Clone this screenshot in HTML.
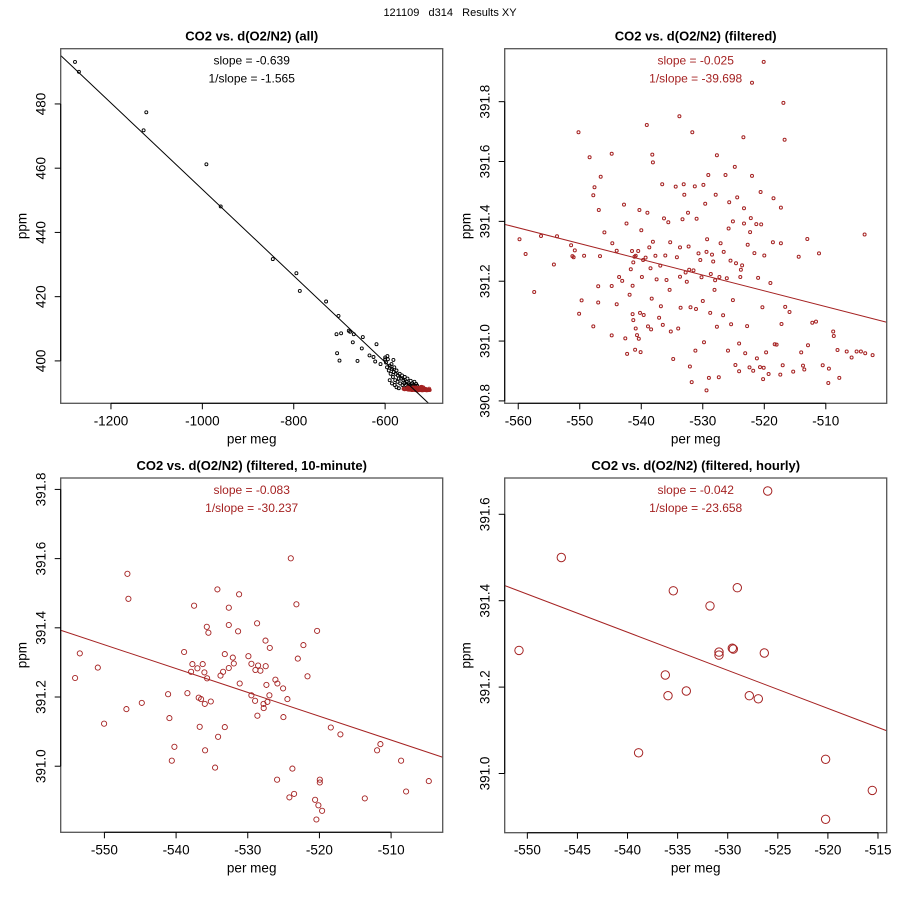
<!DOCTYPE html>
<html><head><meta charset="utf-8">
<style>
html,body{margin:0;padding:0;background:#fff;}
svg{display:block;font-family:"Liberation Sans",Arial,sans-serif;}
</style></head>
<body>
<svg id="chart" width="900" height="900" viewBox="0 0 900 900">
<text x="450" y="16" text-anchor="middle" font-size="11" fill="#000" xml:space="preserve" style="white-space:pre">121109   d314   Results XY</text>
</svg>
<script>
// ---------- Panel 1 data (all) ----------
const p1OutX=[-1278.8,-1270.1,-1128.5,-1122.6,-991.2,-959.8,-845.9,-794.1,-786.8,-729.1,-702.1,-706.5,-705.1,-699.9,-696.3,-679.5,-676.6,-670.7,-668.6,-648.8,-651.0,-660.5,-634.2,-625.5,-621.8,-618.9,-610.2,-599.9];
const p1OutY=[493.1,490.0,471.8,477.4,461.2,448.1,431.7,427.3,421.8,418.5,414.0,408.3,402.4,400.1,408.6,409.4,409.1,405.8,408.3,407.4,403.9,400.0,401.7,401.2,399.8,405.2,399.0,401.1];
const p1ClX=[-598,-596,-594,-592,-590,-588,-586,-585,-583,-581,-580,-578,-577,-575,-573,-572,-570,-568,-567,-565,-563,-562,-560,-558,-557,-555,-553,-551,-550,-548,-546,-544,-542,-540,-538,-536,-534,-532,-530,-585,-579,-575,-570,-590,-582,-595,-600];
const p1ClY=[399.5,398,400.5,397,398.5,396,399,397.5,395,396.5,398,394,396,397,393.5,395.5,394.5,396,393,394.5,395.5,392.5,394,393,395,392.5,393.5,394.5,392,393,392.5,393.8,392.2,393,392.5,393.5,392.2,392.8,392.3,393,392.5,391.8,391.5,394,400.3,401.5,400.5];
const p1LineX=[-1310,-505];
const p1LineY=[495.1,386.8];
const p1XTicks=[-1200,-1000,-800,-600];
const p1YTicks=[400,420,440,460,480];
const p1Slope=["slope = -0.639","1/slope = -1.565"];

// ---------- Panel 2 data (filtered) ----------
const p2X=[-559.8,-558.8,-557.4,-556.3,-554.2,-553.7,-551.4,-551.2,-551.0,-550.8,-550.2,-550.1,-549.7,-549.3,-548.4,-547.8,-547.8,-547.6,-547.0,-547.0,-546.9,-546.7,-546.6,-546.0,-544.8,-544.8,-544.8,-544.7,-544.0,-544.0,-543.6,-543.1,-542.8,-542.6,-542.4,-542.3,-541.9,-541.7,-541.5,-541.4,-541.4,-541.3,-541.3,-541.1,-541.0,-540.9,-540.9,-540.7,-540.5,-540.4,-540.3,-540.2,-540.1,-540.0,-539.9,-539.7,-539.6,-539.3,-539.1,-539.0,-538.9,-538.7,-538.5,-538.4,-538.3,-538.2,-538.1,-538.1,-537.7,-537.5,-537.1,-536.9,-536.8,-536.6,-536.5,-536.3,-536.1,-535.9,-535.6,-535.4,-535.3,-535.2,-534.8,-534.4,-534.2,-534.0,-533.8,-533.7,-533.7,-533.6,-533.3,-533.1,-533.0,-532.8,-532.6,-532.4,-532.3,-532.2,-532.1,-532.0,-531.8,-531.7,-531.5,-531.3,-531.2,-531.1,-531.0,-530.7,-530.4,-530.2,-530.0,-529.9,-529.8,-529.6,-529.4,-529.4,-529.3,-529.1,-529.0,-528.8,-528.7,-528.5,-528.3,-528.1,-528.0,-527.9,-527.7,-527.7,-527.4,-527.3,-527.1,-526.7,-526.6,-526.3,-526.1,-525.9,-525.8,-525.7,-525.5,-525.4,-525.1,-525.1,-524.8,-524.7,-524.6,-524.4,-524.1,-524.1,-523.9,-523.8,-523.6,-523.4,-523.3,-523.3,-523.1,-522.8,-522.7,-522.4,-522.3,-522.2,-522.0,-522.0,-521.8,-521.6,-521.3,-521.2,-521.0,-520.7,-520.6,-520.5,-520.3,-520.2,-520.1,-520.1,-520.0,-519.7,-519.3,-519.0,-518.6,-518.5,-518.3,-518.0,-517.4,-517.3,-517.3,-517.2,-517.0,-516.9,-516.7,-516.6,-515.9,-515.3,-514.4,-514.0,-513.7,-513.5,-513.0,-512.9,-512.2,-511.6,-511.1,-510.5,-509.6,-509.5,-508.8,-508.7,-508.1,-507.8,-506.6,-505.8,-505.0,-504.3,-503.7,-503.6,-502.4];
const p2Y=[391.340,391.291,391.164,391.351,391.256,391.350,391.320,391.284,391.280,391.303,391.698,391.091,391.136,391.285,391.614,391.487,391.049,391.514,391.183,391.129,391.438,391.284,391.549,391.363,391.626,391.184,391.019,391.327,391.302,391.123,391.214,391.201,391.456,391.009,391.393,390.957,391.155,391.240,391.301,391.185,391.090,391.263,391.070,391.282,390.971,391.042,391.285,391.020,391.301,391.008,391.438,391.094,390.963,391.370,391.214,391.271,391.087,391.279,391.722,391.429,391.049,391.313,391.243,391.039,391.142,391.623,391.332,391.597,391.285,391.206,391.078,391.252,391.116,391.524,391.054,391.410,391.286,391.204,391.397,391.171,391.330,391.032,390.940,391.516,391.280,391.042,391.751,391.313,391.215,391.111,391.407,391.524,391.489,391.229,391.198,391.429,391.316,391.238,390.915,391.113,390.863,391.698,391.236,391.517,390.968,391.107,391.409,391.293,391.271,391.213,391.134,391.522,390.996,391.459,391.298,390.835,391.340,391.555,390.877,391.094,391.224,391.289,391.266,391.171,391.203,391.489,391.621,391.048,390.879,391.214,391.327,391.086,391.298,391.555,391.210,390.968,391.376,391.464,391.269,391.056,391.400,391.137,391.582,390.920,391.260,391.480,390.992,390.899,391.214,391.238,391.253,391.681,391.393,391.444,390.959,391.050,391.322,390.912,391.364,391.411,391.863,391.552,390.901,391.294,391.391,390.942,391.211,390.913,391.498,391.390,391.113,390.873,391.933,390.911,391.286,390.962,390.890,391.194,391.330,391.477,390.989,390.988,390.888,391.327,391.446,391.057,390.919,391.796,391.673,391.114,391.097,390.898,391.282,390.962,390.918,390.905,391.341,390.986,391.061,391.065,391.293,390.919,390.860,390.908,391.032,391.017,390.970,390.877,390.965,390.945,390.965,390.965,391.356,390.959,390.953];
const p2LineX=[-562.2,-500.1];
const p2LineY=[391.39,391.063];
const p2XTicks=[-560,-550,-540,-530,-520,-510];
const p2YTicks=[390.8,391.0,391.2,391.4,391.6,391.8];
const p2Slope=["slope = -0.025","1/slope = -39.698"];

// ---------- Panel 3 data (10-minute) ----------
const p3X=[-554.09,-553.44,-550.93,-550.05,-546.93,-546.79,-546.65,-544.79,-541.12,-540.93,-540.60,-540.23,-538.88,-538.42,-537.91,-537.72,-537.49,-537.02,-536.84,-536.51,-536.70,-536.28,-536.05,-536.00,-535.95,-535.72,-535.67,-535.49,-535.16,-534.56,-534.23,-534.14,-533.81,-533.44,-533.21,-533.21,-532.65,-532.65,-532.65,-532.09,-531.95,-531.35,-531.21,-531.12,-529.91,-529.49,-529.49,-528.98,-528.93,-528.70,-528.65,-528.56,-528.23,-527.81,-527.77,-527.53,-527.49,-527.40,-527.26,-526.98,-526.93,-526.14,-525.86,-525.91,-525.07,-525.02,-524.47,-524.19,-524.00,-523.77,-523.53,-523.21,-523.02,-522.23,-521.67,-520.60,-520.42,-520.33,-520.14,-519.95,-519.95,-519.63,-518.42,-517.07,-513.67,-511.95,-511.49,-508.60,-507.91,-504.74];
const p3Y=[391.255,391.326,391.285,391.123,391.165,391.556,391.484,391.183,391.208,391.139,391.016,391.056,391.330,391.211,391.273,391.295,391.464,391.283,391.198,391.194,391.114,391.295,391.271,391.180,391.046,391.403,391.254,391.386,391.187,390.996,391.511,391.085,391.262,391.273,391.324,391.113,391.458,391.408,391.284,391.314,391.297,391.390,391.497,391.239,391.318,391.296,391.205,391.189,391.278,391.413,391.146,391.291,391.276,391.180,391.168,391.363,391.289,391.235,391.186,391.205,391.342,391.250,391.239,390.961,391.225,391.142,391.194,390.910,391.601,390.993,390.920,391.468,391.311,391.350,391.260,390.903,390.846,391.391,390.887,390.961,390.953,390.871,391.112,391.092,390.907,391.046,391.064,391.016,390.927,390.957];
const p3LineX=[-556.1,-502.8];
const p3LineY=[391.393,391.026];
const p3XTicks=[-550,-540,-530,-520,-510];
const p3YTicks=[391.0,391.2,391.4,391.6,391.8];
const p3Slope=["slope = -0.083","1/slope = -30.237"];

// ---------- Panel 4 data (hourly) ----------
const p4X=[-550.83,-546.61,-538.89,-536.23,-535.96,-535.43,-534.13,-531.77,-530.87,-530.87,-529.54,-529.44,-529.04,-527.84,-526.95,-526.35,-526.01,-520.23,-520.23,-515.57];
const p4Y=[391.285,391.500,391.048,391.228,391.180,391.423,391.191,391.388,391.281,391.274,391.290,391.288,391.430,391.180,391.173,391.279,391.654,391.033,390.894,390.961];
const p4LineX=[-552.26,-514.13];
const p4LineY=[391.435,391.099];
const p4XTicks=[-550,-545,-540,-535,-530,-525,-520,-515];
const p4YTicks=[391.0,391.2,391.4,391.6];
const p4Slope=["slope = -0.042","1/slope = -23.658"];

const NS="http://www.w3.org/2000/svg";
const svg=document.getElementById('chart');
const RED="#a52222";
function mk(tag,attrs,parent){const e=document.createElementNS(NS,tag);for(const k in attrs)e.setAttribute(k,attrs[k]);(parent||svg).appendChild(e);return e;}

function panel(cfg){
  const g=mk('g',{});
  
  
  const sx=v=>cfg.L+(v-cfg.x0)/(cfg.x1-cfg.x0)*(cfg.R-cfg.L);
  const sy=v=>cfg.B-(v-cfg.y0)/(cfg.y1-cfg.y0)*(cfg.B-cfg.T);
  const cx=(cfg.L+cfg.R)/2;
  const t=mk('text',{x:cx,y:cfg.T-8,'text-anchor':'middle','font-size':13,'font-weight':'bold',fill:'#000'},g);
  t.textContent=cfg.title;
  
  
  const pg=mk('g',{fill:'none','stroke-width':cfg.sw},g);
  
  
  cfg.series.forEach(s=>{
    const n=Math.min(s.x.length,s.y.length);
    for(let i=0;i<n;i++){
      const c=mk('circle',{cx:sx(s.x[i]).toFixed(1),cy:sy(s.y[i]).toFixed(1),r:s.r,stroke:s.color},pg);
      
      
    }
  });
  const cp=mk('clipPath',{id:'clip'+cfg.id},g);
  mk('rect',{x:cfg.L,y:cfg.T,width:cfg.R-cfg.L,height:cfg.B-cfg.T},cp);
  const ln=mk('line',{x1:sx(cfg.lx[0]),y1:sy(cfg.ly[0]),x2:sx(cfg.lx[1]),y2:sy(cfg.ly[1]),stroke:cfg.lineColor,'stroke-width':1,'clip-path':'url(#clip'+cfg.id+')'},g);
  
  
  const bx=mk('rect',{x:cfg.L,y:cfg.T,width:cfg.R-cfg.L,height:cfg.B-cfg.T,fill:'none',stroke:'#555','stroke-width':1.3},g);
  
  
  cfg.slope.forEach((s,i)=>{
    const st=mk('text',{x:cx,y:cfg.T+16+i*18,'text-anchor':'middle','font-size':12,fill:cfg.textColor},g);
    st.textContent=s;
    
    
  });
  const xa=mk('g',{},g);
  
  
  mk('line',{x1:sx(cfg.xt[0]),x2:sx(cfg.xt[cfg.xt.length-1]),y1:cfg.B,y2:cfg.B,stroke:'#000'},xa);
  cfg.xt.forEach(v=>{
    const X=sx(v);
    mk('line',{x1:X,x2:X,y1:cfg.B,y2:cfg.B+6,stroke:'#000'},xa);
    const tl=mk('text',{x:X,y:cfg.B+22,'text-anchor':'middle','font-size':13.5,fill:'#000'},xa);
    tl.textContent=String(v);
    
    
  });
  const xl=mk('text',{x:cx,y:cfg.B+40,'text-anchor':'middle','font-size':13.5,fill:'#000'},g);
  xl.textContent='per meg';
  
  
  const ya=mk('g',{},g);
  
  
  mk('line',{x1:cfg.L,x2:cfg.L,y1:sy(cfg.yt[0]),y2:sy(cfg.yt[cfg.yt.length-1]),stroke:'#000'},ya);
  cfg.yt.forEach(v=>{
    const Y=sy(v);
    mk('line',{x1:cfg.L-6,x2:cfg.L,y1:Y,y2:Y,stroke:'#000'},ya);
    const tx=cfg.L-15;
    const tl=mk('text',{x:tx,y:Y,'text-anchor':'middle','font-size':13.5,fill:'#000',transform:'rotate(-90 '+tx+' '+Y+')'},ya);
    tl.textContent=cfg.yfmt(v);
    
    
  });
  const yx=cfg.L-34, yy=(cfg.T+cfg.B)/2;
  const yl=mk('text',{x:yx,y:yy,'text-anchor':'middle','font-size':13.5,fill:'#000',transform:'rotate(-90 '+yx+' '+yy+')'},g);
  yl.textContent='ppm';
  
  
}

panel({id:1,name:'panel-all',title:'CO2 vs. d(O2/N2) (all)',L:60.7,R:442.7,T:48.7,B:403.3,x0:-1310,x1:-474,y0:386.8,y1:497.2,
  series:[{x:p1OutX,y:p1OutY,r:1.5,color:'#000'},{x:p1ClX,y:p1ClY,r:1.5,color:'#000'},{x:p2X,y:p2Y,r:1.5,color:RED}],
  sw:0.9,lx:p1LineX,ly:p1LineY,lineColor:'#000',textColor:'#000',slope:p1Slope,xt:p1XTicks,yt:p1YTicks,yfmt:v=>String(v)});
panel({id:2,name:'panel-filtered',title:'CO2 vs. d(O2/N2) (filtered)',L:504.7,R:886.7,T:48.7,B:403.3,x0:-562.2,x1:-500.1,y0:390.792,y1:391.977,
  series:[{x:p2X,y:p2Y,r:1.5,color:RED}],
  sw:1,lx:p2LineX,ly:p2LineY,lineColor:RED,textColor:RED,slope:p2Slope,xt:p2XTicks,yt:p2YTicks,yfmt:v=>v.toFixed(1)});
panel({id:3,name:'panel-10-minute',title:'CO2 vs. d(O2/N2) (filtered, 10-minute)',L:60.7,R:442.7,T:478,B:832.3,x0:-556.1,x1:-502.8,y0:390.809,y1:391.833,
  series:[{x:p3X,y:p3Y,r:2.6,color:RED}],
  sw:0.9,lx:p3LineX,ly:p3LineY,lineColor:RED,textColor:RED,slope:p3Slope,xt:p3XTicks,yt:p3YTicks,yfmt:v=>v.toFixed(1)});
panel({id:4,name:'panel-hourly',title:'CO2 vs. d(O2/N2) (filtered, hourly)',L:504.7,R:886.7,T:478,B:832.7,x0:-552.26,x1:-514.13,y0:390.863,y1:391.684,
  series:[{x:p4X,y:p4Y,r:4.2,color:RED}],
  sw:1,lx:p4LineX,ly:p4LineY,lineColor:RED,textColor:RED,slope:p4Slope,xt:p4XTicks,yt:p4YTicks,yfmt:v=>v.toFixed(1)});
</script>
</body></html>
